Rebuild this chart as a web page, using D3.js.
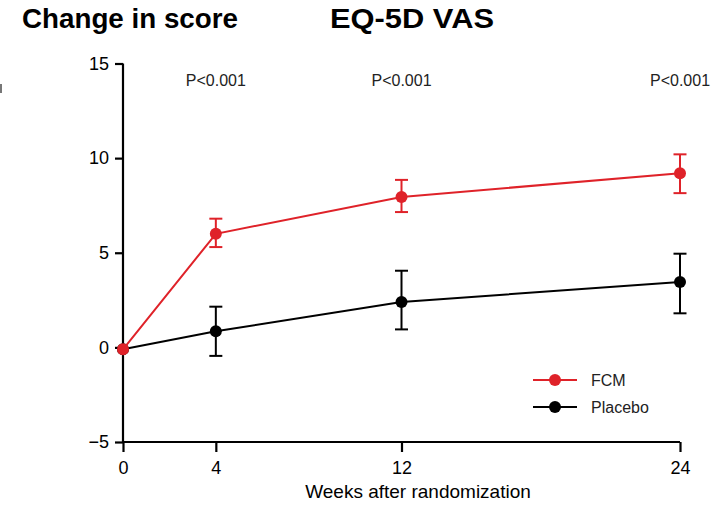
<!DOCTYPE html>
<html>
<head>
<meta charset="utf-8">
<script src="https://cdn.jsdelivr.net/npm/d3@7"></script>
<style>
  body { margin: 0; background: #fff; }
  text { font-family: "Liberation Sans", Arial, sans-serif; }
</style>
</head>
<body>
<div id="chart"></div>
<script>
const width = 721;
const height = 505;

// data
const weeks = [0, 4, 12, 24];
const fcmMean = [-0.1, 6.0, 7.95, 9.2];
const fcmLow = [-0.1, 5.3, 7.15, 8.15];
const fcmHigh = [-0.1, 6.8, 8.85, 10.2];
const placeboMean = [-0.1, 0.85, 2.4, 3.45];
const placeboLow = [-0.1, -0.45, 0.95, 1.8];
const placeboHigh = [-0.1, 2.15, 4.05, 4.95];
const pWeeks = [4, 12, 24];
const pLabels = ["P<0.001", "P<0.001", "P<0.001"];
const yTicks = [-5, 0, 5, 10, 15];

const red = "#df2229";

const series = [
  { name: "FCM", color: red, mean: fcmMean, low: fcmLow, high: fcmHigh },
  { name: "Placebo", color: "#000", mean: placeboMean, low: placeboLow, high: placeboHigh }
];

const svg = d3.select("#chart")
  .append("svg")
  .attr("width", width)
  .attr("height", height);

const x = d3.scaleLinear()
  .domain([0, 24])
  .range([123, 680]);

const y = d3.scaleLinear()
  .domain([-5, 15])
  .range([442, 63.5]);

// titles
svg.append("text")
  .attr("x", 22)
  .attr("y", 28)
  .attr("font-size", 27)
  .attr("font-weight", "bold")
  .attr("textLength", 216)
  .attr("lengthAdjust", "spacingAndGlyphs")
  .text("Change in score");

svg.append("text")
  .attr("x", 330)
  .attr("y", 28)
  .attr("font-size", 27)
  .attr("font-weight", "bold")
  .attr("textLength", 164)
  .attr("lengthAdjust", "spacingAndGlyphs")
  .text("EQ-5D VAS");

// cropped fragment at left edge
svg.append("rect")
  .attr("x", 0)
  .attr("y", 84)
  .attr("width", 2)
  .attr("height", 9)
  .attr("fill", "#777");

// axes
const yAxis = svg.append("g")
  .attr("transform", `translate(${x(0)},0)`)
  .call(d3.axisLeft(y).tickValues(yTicks).tickSize(8).tickPadding(6)
    .tickFormat(d => d < 0 ? "\u2212" + Math.abs(d) : d));

const xAxis = svg.append("g")
  .attr("transform", `translate(0,${y(-5)})`)
  .call(d3.axisBottom(x).tickValues(weeks).tickSize(10).tickPadding(9));

[xAxis, yAxis].forEach(a => {
  a.select(".domain").attr("stroke-width", 2.2);
  a.selectAll(".tick line").attr("stroke-width", 2.2);
  a.selectAll(".tick text").attr("font-size", 18).attr("fill", "#000");
});
yAxis.select(".domain").attr("d", `M0,${y(15)}V${y(-5)}`);
xAxis.select(".domain").attr("d", `M${x(0)},0H${x(24)}`);

svg.append("text")
  .attr("x", 418)
  .attr("y", 498)
  .attr("text-anchor", "middle")
  .attr("font-size", 19)
  .text("Weeks after randomization");

// p-values
svg.selectAll(".pval")
  .data(pWeeks)
  .enter().append("text")
  .attr("class", "pval")
  .attr("x", d => x(d))
  .attr("y", 86)
  .attr("text-anchor", "middle")
  .attr("font-size", 16)
  .attr("fill", "#222")
  .text((d, i) => pLabels[i]);

const line = d3.line()
  .x(d => x(d.w))
  .y(d => y(d.m));

// draw placebo first, FCM on top
series.slice().reverse().forEach(s => {
  const pts = weeks.map((w, i) => ({ w, m: s.mean[i], lo: s.low[i], hi: s.high[i] }));
  const g = svg.append("g");
  g.append("path")
    .datum(pts)
    .attr("fill", "none")
    .attr("stroke", s.color)
    .attr("stroke-width", 2)
    .attr("d", line);
  const eb = g.selectAll(".eb")
    .data(pts.filter(d => d.hi !== d.lo))
    .enter().append("g")
    .attr("stroke", s.color)
    .attr("stroke-width", 2);
  eb.append("line")
    .attr("x1", d => x(d.w)).attr("x2", d => x(d.w))
    .attr("y1", d => y(d.lo)).attr("y2", d => y(d.hi));
  eb.append("line")
    .attr("x1", d => x(d.w) - 6.5).attr("x2", d => x(d.w) + 6.5)
    .attr("y1", d => y(d.hi)).attr("y2", d => y(d.hi));
  eb.append("line")
    .attr("x1", d => x(d.w) - 6.5).attr("x2", d => x(d.w) + 6.5)
    .attr("y1", d => y(d.lo)).attr("y2", d => y(d.lo));
  g.selectAll("circle")
    .data(pts)
    .enter().append("circle")
    .attr("cx", d => x(d.w))
    .attr("cy", d => y(d.m))
    .attr("r", 6)
    .attr("fill", s.color);
});

// legend
const legend = svg.append("g")
  .attr("transform", "translate(533,380)");

const item = legend.selectAll(".item")
  .data(series)
  .enter().append("g")
  .attr("transform", (d, i) => `translate(0,${i * 27})`);

item.append("line")
  .attr("x1", 0).attr("x2", 44)
  .attr("stroke", d => d.color)
  .attr("stroke-width", 2);
item.append("circle")
  .attr("cx", 22)
  .attr("r", 6)
  .attr("fill", d => d.color);
item.append("text")
  .attr("x", 58)
  .attr("y", 6)
  .attr("font-size", 16)
  .attr("fill", "#222")
  .text(d => d.name);
</script>
</body>
</html>
